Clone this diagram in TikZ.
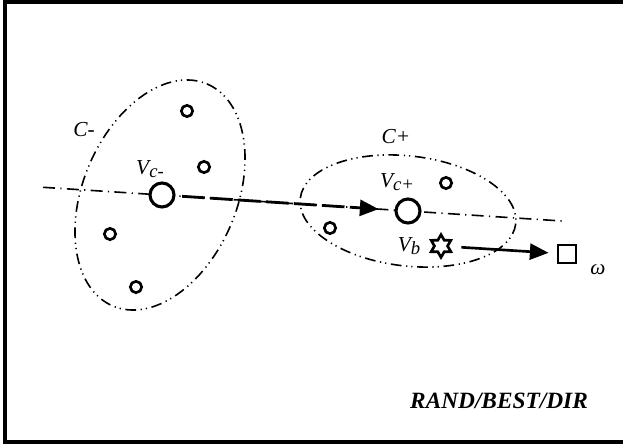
\documentclass[tikz,border=0pt]{standalone}
\usepackage{fontspec}
\setmainfont{Liberation Serif}
\usetikzlibrary{shapes.geometric,arrows.meta}
\begin{document}
\begin{tikzpicture}[x=0.75pt,y=-0.75pt,
  dashdotdot/.style={line width=1.2pt,dash pattern=on 8pt off 3.5pt on 0.9pt off 3pt on 0.9pt off 3.5pt},
  dashdotline/.style={line width=1.2pt,dash pattern=on 9pt off 4pt on 0.9pt off 4pt},
  bigpt/.style={circle,draw,fill=white,line width=2.3pt,minimum size=18pt,inner sep=0pt},
  smallpt/.style={circle,draw,fill=white,line width=2pt,minimum size=8.5pt,inner sep=0pt},
  lbl/.style={font=\fontsize{16}{18}\selectfont\itshape,inner sep=0pt},
  sub/.style={},
  tip/.style={-{Triangle[length=14pt,width=12pt]}}]
\useasboundingbox (0,0) rectangle (623,445);
% frame
\draw[line width=2.8pt] (626,1.8) -- (5,1.8) -- (5,442) -- (626,442);
% clusters
\draw[dashdotdot,rotate around={67:(160,195)}] (160,195) ellipse [x radius=120.6, y radius=76.9];
\draw[dashdotdot,rotate around={-6.7:(408,211)}] (408,211) ellipse [x radius=108.5, y radius=55];
% direction line
\coordinate (la) at (43,187.3);
\coordinate (lb) at (565,221.2);
\draw[dashdotline] (la) -- (lb);
% points
\node[bigpt] (vcm) at (162,195) {};
\node[bigpt] (vcp) at (408,211) {};
\node[smallpt] (p1) at (187,111) {};
\node[smallpt] (p2) at (204,167) {};
\node[smallpt] (p3) at (110,234) {};
\node[smallpt] (p4) at (136,287) {};
\node[smallpt] (p5) at (446,183) {};
\node[smallpt] (p6) at (330,228) {};
\node[star,star points=6,star point ratio=1.73,draw,line width=2pt,minimum size=17pt,inner sep=0pt] (vb) at (441,246) {};
\node[rectangle,draw,line width=2.2pt,minimum size=13.5pt,inner sep=0pt] (om) at (567,254) {};
% arrows
\draw[line width=2.1pt,dash pattern=on 17pt off 4pt,tip,shorten <=5pt,shorten >=12pt] (vcm) -- (vcp);
\draw[line width=2pt,tip,shorten <=9pt,shorten >=6pt] (vb) -- (om);
% labels
\node[lbl] (lcm) at (84,130) {C-};
\node[lbl] (lvcm) at (150,169) {V\raisebox{-2.5pt}{\fontsize{14}{15}\selectfont c-}};
\node[lbl] (lcp) at (396,137) {C+};
\node[lbl] (lvcp) at (397,182) {V\raisebox{-2.5pt}{\fontsize{14}{15}\selectfont c+}};
\node[lbl] (lvb) at (409,246) {V\raisebox{-2pt}{\fontsize{14}{15}\selectfont b}};
\node[lbl,font=\fontsize{16}{18}\selectfont\itshape] (lom) at (598,270) {ω};
\node[inner sep=0pt,font=\fontsize{17.5}{20}\selectfont\bfseries\itshape] (rbd) at (499,401) {RAND/BEST/DIR};
\end{tikzpicture}
\end{document}
